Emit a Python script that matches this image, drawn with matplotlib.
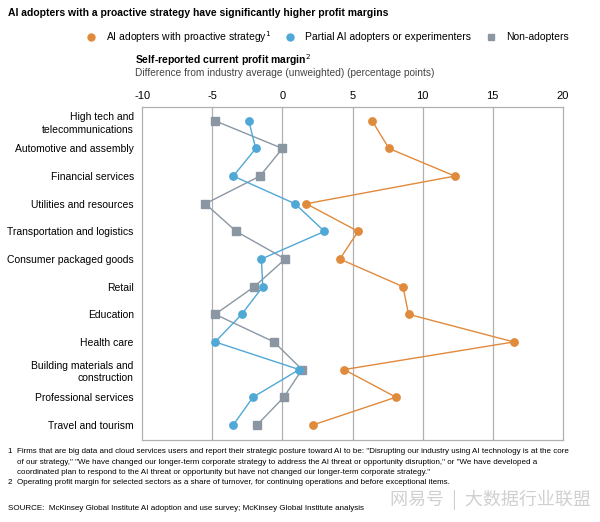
import numpy as np
import matplotlib
matplotlib.use("Agg")
import matplotlib.pyplot as plt

plt.rcParams['font.family'] = ['Liberation Sans', 'DejaVu Sans']

# Data (difference from industry average, percentage points)
sectors = [
    "High tech and\ntelecommunications",
    "Automotive and assembly",
    "Financial services",
    "Utilities and resources",
    "Transportation and logistics",
    "Consumer packaged goods",
    "Retail",
    "Education",
    "Health care",
    "Building materials and\nconstruction",
    "Professional services",
    "Travel and tourism",
]
proactive = [6.4, 7.6, 12.3, 1.7, 5.4, 4.1, 8.6, 9.0, 16.5, 4.4, 8.1, 2.2]
partial = [-2.4, -1.9, -3.5, 0.9, 3.0, -1.5, -1.4, -2.9, -4.8, 1.2, -2.1, -3.5]
non_adopters = [-4.8, 0.0, -1.6, -5.5, -3.3, 0.2, -2.0, -4.8, -0.6, 1.4, 0.1, -1.8]
xticks = [-10, -5, 0, 5, 10, 15, 20]

orange = '#E08A3C'
blue = '#4FA8D6'
gray = '#8A97A3'

fig = plt.figure(figsize=(6, 5.22), dpi=100)
ax = fig.add_axes([0.237, 0.157, 0.701, 0.638])

y = np.arange(len(sectors))
ax.plot(non_adopters, y, color=gray, lw=1, marker='s', ms=5.3, zorder=3)
ax.plot(partial, y, color=blue, lw=1, marker='o', ms=5.3, zorder=4)
ax.plot(proactive, y, color=orange, lw=1, marker='o', ms=5.3, zorder=5)

ax.set_xlim(-10, 20)
ax.set_ylim(len(sectors) - 0.45, -0.5)
ax.set_xticks(xticks)
ax.set_xticklabels([str(t) for t in xticks], fontsize=8)
ax.xaxis.tick_top()
ax.tick_params(axis='x', length=0, pad=4)
ax.set_yticks(y)
ax.set_yticklabels(sectors, fontsize=7.5, linespacing=1.35)
ax.tick_params(axis='y', length=0, pad=6)
for t in xticks[1:-1]:
    ax.axvline(t, color='#B0B0B0', lw=0.9, zorder=1)
for s in ax.spines.values():
    s.set_color('#B0B0B0')
    s.set_linewidth(0.9)

# Titles
fig.text(0.013, 0.975, "AI adopters with a proactive strategy have significantly higher profit margins",
         fontsize=7.5, fontweight='bold', va='center')
fig.text(0.225, 1 - 60 / 522, "Self-reported current profit margin$^2$", fontsize=7.5, fontweight='bold', va='center')
fig.text(0.225, 1 - 73 / 522, "Difference from industry average (unweighted) (percentage points)",
         fontsize=7.3, color='#444444', va='center')

# Legend
leg_y = 1 - 37 / 522
fig.lines.append(plt.Line2D([91 / 600], [leg_y], marker='o', color=orange, ms=5, transform=fig.transFigure))
fig.text(106 / 600, leg_y, "AI adopters with proactive strategy$^1$", fontsize=7.5, va='center')
fig.lines.append(plt.Line2D([290 / 600], [leg_y], marker='o', color=blue, ms=5, transform=fig.transFigure))
fig.text(305 / 600, leg_y, "Partial AI adopters or experimenters", fontsize=7.5, va='center')
fig.lines.append(plt.Line2D([491 / 600], [leg_y], marker='s', color=gray, ms=5, transform=fig.transFigure))
fig.text(506 / 600, leg_y, "Non-adopters", fontsize=7.5, va='center')

# Footnotes
foot = ("1  Firms that are big data and cloud services users and report their strategic posture toward AI to be: \"Disrupting our industry using AI technology is at the core\n"
        "    of our strategy,\" \"We have changed our longer-term corporate strategy to address the AI threat or opportunity disruption,\" or \"We have developed a\n"
        "    coordinated plan to respond to the AI threat or opportunity but have not changed our longer-term corporate strategy.\"\n"
        "2  Operating profit margin for selected sectors as a share of turnover, for continuing operations and before exceptional items.")
fig.text(0.013, 1 - 448 / 522, foot, fontsize=5.8, va='top', linespacing=1.7)
fig.text(0.013, 1 - 509 / 522, "SOURCE:  McKinsey Global Institute AI adoption and use survey; McKinsey Global Institute analysis",
         fontsize=5.8, va='center')
fig.text(0.985, 1 - 500 / 522, "网易号  |  大数据行业联盟", fontsize=13, color='#D0D0D0', ha='right', va='center',
         family=['Noto Sans CJK SC', 'DejaVu Sans'])

fig.savefig('out.png', dpi=100)
